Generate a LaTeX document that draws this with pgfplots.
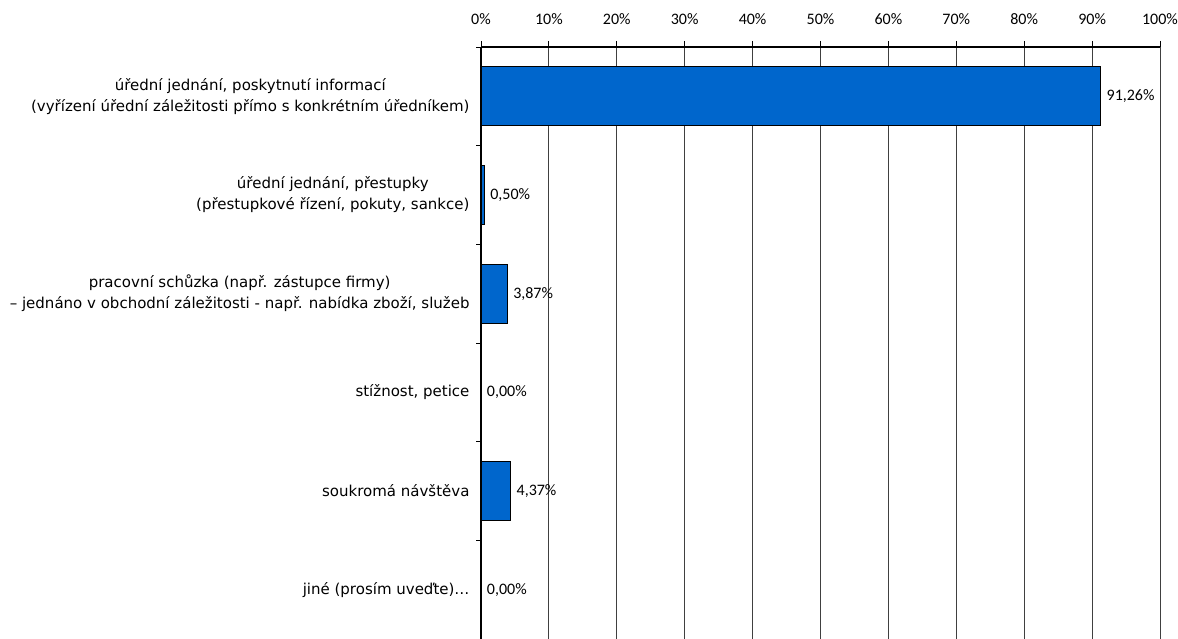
\documentclass[border=0pt]{standalone}
\usepackage{fontspec}
\setmainfont{DejaVu Sans}
\newfontfamily\tickfont{Carlito}
\usepackage{pgfplots}
\pgfplotsset{compat=1.18}
\definecolor{barblue}{HTML}{0066CC}
\begin{document}
\begin{tikzpicture}[x=1pt,y=1pt]
\useasboundingbox (0,0) rectangle (1178,639);
\begin{axis}[
  at={(481pt,0pt)}, anchor=south west,
  width=679pt, height=592pt, scale only axis,
  xmin=0, xmax=100, ymin=-0.5, ymax=5.5,
  /pgf/number format/assume math mode=true,
  axis x line*=top, axis y line*=left,
  axis line style={black, line width=1.2pt},
  tick align=outside,
  major tick length=6pt,
  xtick={0,10,...,100},
  xticklabel={\pgfmathprintnumber{\tick}\%},
  xticklabel style={font=\tickfont\fontsize{16}{18}\selectfont, yshift=13pt},
  xtick style={black, line width=0.9pt},
  xmajorgrids,
  grid style={black!75, line width=0.9pt},
  ytick={0,1,2,3,4,5},
  yticklabels={{jiné (prosím uveďte)…},{soukromá návštěva},{stížnost, petice},{pracovní schůzka (např. zástupce firmy)\\– jednáno v obchodní záležitosti - např. nabídka zboží, služeb},{úřední jednání, přestupky\\(přestupkové řízení, pokuty, sankce)},{úřední jednání, poskytnutí informací\\(vyřízení úřední záležitosti přímo s konkrétním úředníkem)}},
  yticklabel style={align=center, font=\fontsize{15}{21}\selectfont, xshift=-2pt},
  ytick style={draw=none},
  extra y ticks={-0.5,0.5,1.5,2.5,3.5,4.5,5.5},
  extra y tick labels={},
  extra y tick style={ytick style={draw=black, line width=0.9pt}, major tick length=5pt},
  xbar, bar width=59pt,
  nodes near coords={\pgfmathprintnumber[fixed, fixed zerofill, precision=2, use comma]{\pgfplotspointmeta}\%},
  point meta=x,
  every node near coord/.append style={font=\tickfont\fontsize{16}{18}\selectfont, anchor=west, xshift=2pt},
  clip=false,
]
\addplot[fill=barblue, draw=black, line width=1.3pt] coordinates {
  (91.26,5) (0.50,4) (3.87,3) (0,2) (4.37,1) (0,0)
};
\end{axis}
\end{tikzpicture}
\end{document}
